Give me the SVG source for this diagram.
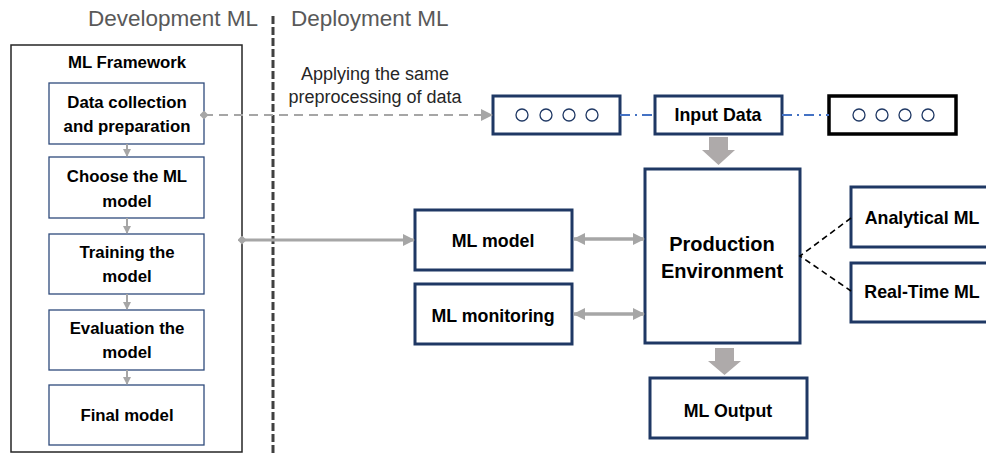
<svg xmlns="http://www.w3.org/2000/svg" width="986" height="455" viewBox="0 0 986 455">
<style>
.hdr{font-family:"Liberation Sans",Arial,sans-serif;font-size:22.5px;fill:#595959}
.lbl{font-family:"Liberation Sans",Arial,sans-serif;font-size:16.8px;font-weight:bold;fill:#000;text-anchor:middle}
.lbl2{font-family:"Liberation Sans",Arial,sans-serif;font-size:17.8px;font-weight:bold;fill:#000;text-anchor:middle}
.big{font-family:"Liberation Sans",Arial,sans-serif;font-size:20px;font-weight:bold;fill:#000;text-anchor:middle}
.note{font-family:"Liberation Sans",Arial,sans-serif;font-size:18px;fill:#262626;text-anchor:middle}
.inner{fill:#fff;stroke:#2F4B7C;stroke-width:1.3}
.navy{fill:#fff;stroke:#1F3864;stroke-width:3}
.circ{fill:none;stroke:#1F3864;stroke-width:1.3}
.blk{fill:#AEAAAA}
</style>
<defs>
<marker id="dia" markerUnits="userSpaceOnUse" markerWidth="9" markerHeight="9" refX="4.5" refY="4.5" orient="auto"><path d="M0,4.5 L4.5,0 L9,4.5 L4.5,9 Z" fill="#A6A6A6"/></marker>
<marker id="arr" markerUnits="userSpaceOnUse" markerWidth="12" markerHeight="12" refX="11" refY="6" orient="auto-start-reverse"><path d="M0,0 L12,6 L0,12 Z" fill="#A6A6A6"/></marker>
<marker id="arrS" markerUnits="userSpaceOnUse" markerWidth="8" markerHeight="8" refX="7" refY="4" orient="auto"><path d="M0,0 L8,4 L0,8 Z" fill="#A6A6A6"/></marker>
</defs>
<rect width="986" height="455" fill="#fff"/>

<g id="headers">
<text class="hdr" x="258" y="26" text-anchor="end">Development ML</text>
<text class="hdr" x="291" y="26">Deployment ML</text>
<line x1="273" y1="16" x2="273" y2="453" stroke="#404040" stroke-width="3" stroke-dasharray="8,3"/>
</g>

<g id="framework">
<rect x="11" y="45" width="231" height="407" fill="#fff" stroke="#262626" stroke-width="1.5"/>
<text class="lbl" x="127" y="68">ML Framework</text>
</g>
<g id="data-collection">
<rect class="inner" x="49" y="83" width="155" height="61"/>
<text class="lbl" x="127" y="108">Data collection</text>
<text class="lbl" x="127" y="132">and preparation</text>
</g>
<g id="choose-model">
<rect class="inner" x="49" y="157" width="155" height="61"/>
<text class="lbl" x="127" y="182">Choose the ML</text>
<text class="lbl" x="127" y="207">model</text>
</g>
<g id="training">
<rect class="inner" x="49" y="234" width="155" height="60"/>
<text class="lbl" x="127" y="258">Training the</text>
<text class="lbl" x="127" y="282">model</text>
</g>
<g id="evaluation">
<rect class="inner" x="49" y="310" width="155" height="60"/>
<text class="lbl" x="127" y="334">Evaluation the</text>
<text class="lbl" x="127" y="358">model</text>
</g>
<g id="final-model">
<rect class="inner" x="49" y="385" width="155" height="60"/>
<text class="lbl" x="127" y="421">Final model</text>
</g>

<g id="note">
<text class="note" x="375" y="80">Applying the same</text>
<text class="note" x="375" y="103">preprocessing of data</text>
</g>

<g id="vec-left">
<rect class="navy" x="493" y="96" width="127" height="38"/>
<circle class="circ" cx="522" cy="115" r="6"/><circle class="circ" cx="546" cy="115" r="6"/><circle class="circ" cx="569" cy="115" r="6"/><circle class="circ" cx="592" cy="115" r="6"/>
</g>
<g id="input-data">
<rect class="navy" x="655" y="96" width="127" height="38"/>
<text class="lbl2" x="718" y="121">Input Data</text>
</g>
<g id="vec-right">
<rect x="829" y="96" width="127" height="38" fill="#fff" stroke="#000" stroke-width="3.5"/>
<circle class="circ" cx="859" cy="115" r="6"/><circle class="circ" cx="882" cy="115" r="6"/><circle class="circ" cx="905" cy="115" r="6"/><circle class="circ" cx="928" cy="115" r="6"/>
</g>

<g id="production">
<rect class="navy" x="645" y="169" width="155" height="174"/>
<text class="big" x="722" y="251">Production</text>
<text class="big" x="722" y="278">Environment</text>
</g>
<g id="ml-model">
<rect class="navy" x="415" y="210" width="157" height="60"/>
<text class="lbl2" x="493" y="247">ML model</text>
</g>
<g id="ml-monitoring">
<rect class="navy" x="415" y="284" width="157" height="60"/>
<text class="lbl2" x="493" y="322">ML monitoring</text>
</g>
<g id="ml-output">
<rect class="navy" x="650" y="378" width="157" height="60"/>
<text class="lbl2" x="728" y="417">ML Output</text>
</g>
<g id="analytical">
<rect class="navy" x="851" y="187" width="150" height="60"/>
<text class="lbl2" x="922" y="224">Analytical ML</text>
</g>
<g id="realtime">
<rect class="navy" x="851" y="263" width="150" height="59"/>
<text class="lbl2" x="922" y="298">Real-Time ML</text>
</g>

<g id="connectors">
<line x1="127" y1="144" x2="127" y2="156" stroke="#A6A6A6" stroke-width="2" marker-end="url(#arrS)"/>
<line x1="127" y1="218" x2="127" y2="233" stroke="#A6A6A6" stroke-width="2" marker-end="url(#arrS)"/>
<line x1="127" y1="294" x2="127" y2="309" stroke="#A6A6A6" stroke-width="2" marker-end="url(#arrS)"/>
<line x1="127" y1="370" x2="127" y2="384" stroke="#A6A6A6" stroke-width="2" marker-end="url(#arrS)"/>
<line x1="204" y1="115" x2="492" y2="115" stroke="#A6A6A6" stroke-width="2" stroke-dasharray="9,6" marker-start="url(#dia)" marker-end="url(#arr)"/>
<line x1="620" y1="115" x2="655" y2="115" stroke="#4472C4" stroke-width="2" stroke-dasharray="10,5,2,5"/>
<line x1="782" y1="115" x2="829" y2="115" stroke="#4472C4" stroke-width="2" stroke-dasharray="10,5,2,5"/>
<line x1="242" y1="240" x2="414" y2="240" stroke="#A6A6A6" stroke-width="3" marker-start="url(#dia)" marker-end="url(#arr)"/>
<line x1="574" y1="239" x2="644" y2="239" stroke="#A6A6A6" stroke-width="3.5" marker-start="url(#arr)" marker-end="url(#arr)"/>
<line x1="574" y1="314" x2="644" y2="314" stroke="#A6A6A6" stroke-width="3.5" marker-start="url(#arr)" marker-end="url(#arr)"/>
<polygon class="blk" points="709,137 728,137 728,150 735,150 718.5,165 702,150 709,150"/>
<polygon class="blk" points="715,348 734,348 734,361 741,361 724.5,375 708,361 715,361"/>
<polyline points="851,218 800,256 851,291" fill="none" stroke="#000" stroke-width="1.6" stroke-dasharray="6,4"/>
</g>
</svg>
